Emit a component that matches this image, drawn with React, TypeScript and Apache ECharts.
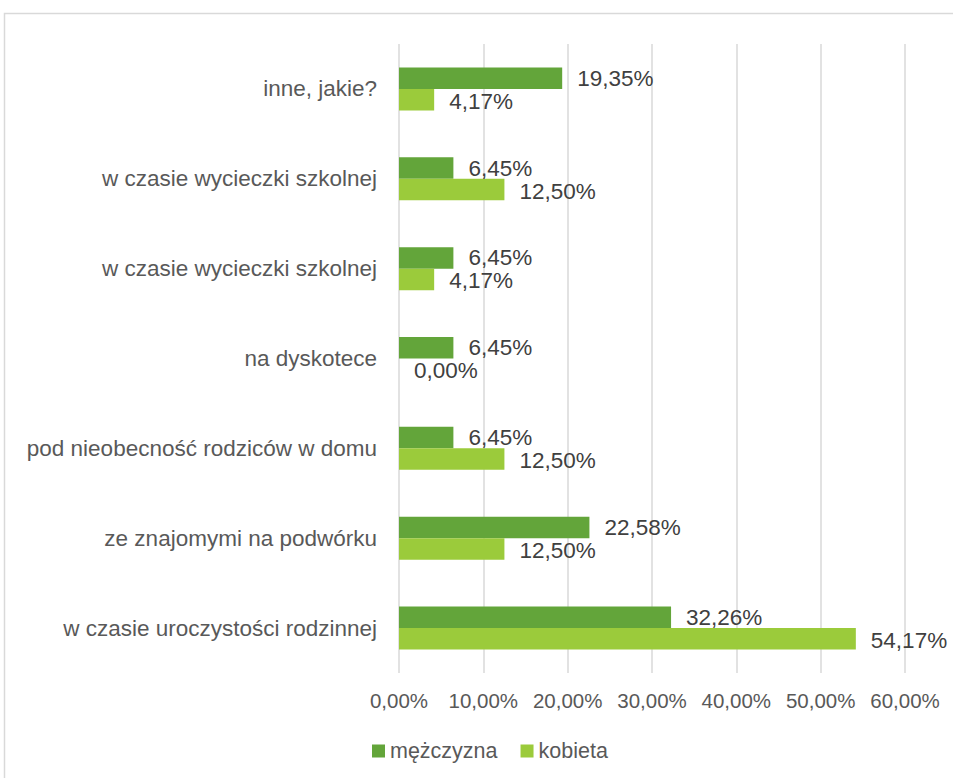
import React, { useEffect, useRef } from "react";
import * as echarts from "echarts";

const categories: string[] = [
  "w czasie uroczystości rodzinnej",
  "ze znajomymi na podwórku",
  "pod nieobecność rodziców w domu",
  "na dyskotece",
  "w czasie wycieczki szkolnej",
  "w czasie wycieczki szkolnej",
  "inne, jakie?",
];
const mezczyzna: number[] = [32.26, 22.58, 6.45, 6.45, 6.45, 6.45, 19.35];
const kobieta: number[] = [54.17, 12.5, 12.5, 0.0, 4.17, 12.5, 4.17];
const seriesNames: string[] = ["mężczyzna", "kobieta"];
const xTicks: number[] = [0, 10, 20, 30, 40, 50, 60];

const fmt = (v: number) => v.toFixed(2).replace(".", ",") + "%";
const FONT = "'Liberation Sans', Arial, sans-serif";

export default function App() {
  const ref = useRef<HTMLDivElement>(null);
  useEffect(() => {
    if (!ref.current) return;
    const chart = echarts.init(ref.current, undefined, { renderer: "svg" });
    const labelStyle = (dy: number) => ({
      show: true,
      position: "right" as const,
      distance: 15,
      offset: [0, dy],
      fontFamily: FONT,
      fontSize: 22.5,
      lineHeight: 20,
      color: "#404040",
      formatter: (p: any) => fmt(p.value),
    });
    chart.setOption({
      animation: false,
      backgroundColor: "#ffffff",
      textStyle: { fontFamily: FONT },
      graphic: [
        {
          type: "rect",
          shape: { x: 4.5, y: 13.5, width: 970, height: 790 },
          style: { fill: "none", stroke: "#d9d9d9", lineWidth: 1.5 },
          silent: true,
        },
      ],
      grid: { left: 399, right: 48, top: 44, bottom: 105, containLabel: false },
      legend: {
        bottom: 11,
        left: 367,
        itemWidth: 13,
        itemHeight: 13,
        itemGap: 23,
        icon: "rect",
        textStyle: { fontFamily: FONT, fontSize: 21.5, color: "#595959" },
        data: seriesNames,
      },
      xAxis: {
        type: "value",
        min: xTicks[0],
        max: xTicks[xTicks.length - 1],
        interval: 10,
        axisLine: { show: false },
        axisTick: { show: false },
        splitLine: { show: true, lineStyle: { color: "#d9d9d9", width: 1.5 } },
        axisLabel: {
          margin: 17,
          fontFamily: FONT,
          fontSize: 20.5,
          color: "#595959",
          formatter: (v: number) => fmt(v),
        },
      },
      yAxis: {
        type: "category",
        data: categories.map((_, i) => String(i)),
        axisLine: { show: false },
        axisTick: { show: false },
        axisLabel: {
          margin: 22,
          fontFamily: FONT,
          fontSize: 22.5,
          color: "#595959",
          formatter: (_v: string, i: number) => categories[i],
        },
      },
      series: [
        {
          name: seriesNames[0],
          type: "bar",
          data: mezczyzna,
          barWidth: 21.5,
          barGap: "0%",
          itemStyle: { color: "#63A53A" },
          label: labelStyle(0),
        },
        {
          name: seriesNames[1],
          type: "bar",
          data: kobieta,
          barWidth: 21.5,
          barGap: "0%",
          itemStyle: { color: "#9BCB3B" },
          label: labelStyle(1.5),
        },
      ],
    });
    return () => chart.dispose();
  }, []);
  return (
    <div
      ref={ref}
      style={{ position: "fixed", left: 0, top: 0, width: 953, height: 778 }}
    />
  );
}
